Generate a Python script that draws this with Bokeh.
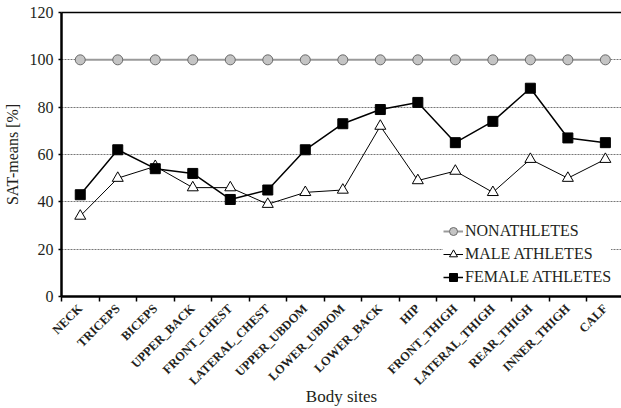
import numpy as np
from bokeh.plotting import figure
from bokeh.models import Range1d, FixedTicker, LinearAxis, Legend
from bokeh.embed import file_html
from bokeh.resources import INLINE

sites = ["NECK", "TRICEPS", "BICEPS", "UPPER_BACK", "FRONT_CHEST", "LATERAL_CHEST",
         "UPPER_UBDOM", "LOWER_UBDOM", "LOWER_BACK", "HIP", "FRONT_THIGH",
         "LATERAL_THIGH", "REAR_THIGH", "INNER_THIGH", "CALF"]
nonathletes = [100, 100, 100, 100, 100, 100, 100, 100, 100, 100, 100, 100, 100, 100, 100]
male = [34, 50, 55, 46, 46, 39, 44, 45, 72, 49, 53, 44, 58, 50, 58]
female = [43, 62, 54, 52, 41, 45, 62, 73, 79, 82, 65, 74, 88, 67, 65]
y_ticks = [0, 20, 40, 60, 80, 100, 120]

FONT = "Liberation Serif"
TXT = "#231f20"

x = np.arange(len(sites)) + 0.5
bounds = list(np.arange(len(sites) + 1))

p = figure(width=621, height=408, output_backend="svg", toolbar_location=None,
           x_range=Range1d(0, 14.93), y_range=Range1d(0, 120),
           min_border_left=61, min_border_right=0, min_border_top=12, min_border_bottom=111)
p.outline_line_color = None
p.background_fill_color = "white"
p.border_fill_color = "white"

# axes
xa = p.xaxis[0]
xa.ticker = FixedTicker(ticks=list(x), minor_ticks=bounds)
xa.major_label_overrides = {float(v): s for v, s in zip(x, sites)}
xa.major_label_orientation = np.pi / 4
xa.major_tick_line_color = None
xa.minor_tick_line_color = "black"
xa.minor_tick_line_width = 1.5
xa.minor_tick_in = 0
xa.minor_tick_out = 5
xa.axis_line_width = 2.5
xa.axis_line_color = "black"
xa.major_label_text_font = FONT
xa.major_label_text_font_style = "bold"
xa.major_label_text_font_size = "12.5px"
xa.major_label_text_color = TXT
xa.major_label_standoff = 4
xa.axis_label = "Body sites"
xa.axis_label_text_font = FONT
xa.axis_label_text_font_style = "normal"
xa.axis_label_text_font_size = "17px"
xa.axis_label_text_color = TXT
xa.axis_label_standoff = -9

ya = p.yaxis[0]
ya.ticker = FixedTicker(ticks=y_ticks)
ya.minor_tick_line_color = None
ya.major_tick_in = 0
ya.major_tick_out = 3
ya.major_tick_line_width = 1.5
ya.axis_line_width = 2.5
ya.axis_line_color = "black"
ya.major_label_text_font = FONT
ya.major_label_text_font_size = "16px"
ya.major_label_text_color = TXT
ya.major_label_standoff = 5
ya.axis_label = "SAT-means [%]"
ya.axis_label_text_font = FONT
ya.axis_label_text_font_style = "normal"
ya.axis_label_text_font_size = "16px"
ya.axis_label_text_color = TXT
ya.axis_label_standoff = 6

top = LinearAxis(ticker=FixedTicker(ticks=[]), axis_line_color="black", axis_line_width=1.5,
                 major_tick_line_color=None, minor_tick_line_color=None,
                 major_label_text_font_size="0px")
p.add_layout(top, "above")

p.xgrid.grid_line_color = None
p.ygrid.ticker = FixedTicker(ticks=y_ticks[1:-1])
p.ygrid.grid_line_color = "#777777"
p.ygrid.grid_line_dash = "2 1"
p.ygrid.grid_line_width = 1

# series
r1 = p.line(x, nonathletes, line_color="#9a9a9a", line_width=2)
s1 = p.scatter(x, nonathletes, marker="circle", size=10, fill_color="#c4c4c4",
               line_color="#6a6a6a", line_width=1)
r2 = p.line(x, male, line_color="black", line_width=1)
s2 = p.scatter(x, male, marker="triangle", size=11, fill_color="white",
               line_color="black", line_width=1)
r3 = p.line(x, female, line_color="black", line_width=1.5)
s3 = p.scatter(x, female, marker="square", size=10, fill_color="black",
               line_color="black", line_width=1)

legend = Legend(items=[("NONATHLETES", [r1, s1]), ("MALE ATHLETES", [r2, s2]),
                       ("FEMALE ATHLETES", [r3, s3])],
                location=(382, 9), orientation="vertical")
legend.border_line_color = None
legend.background_fill_color = "white"
legend.background_fill_alpha = 1
legend.padding = 8
legend.margin = 0
legend.spacing = 3
legend.glyph_width = 20
legend.glyph_height = 20
legend.label_height = 20
legend.label_standoff = 2
legend.label_text_font = FONT
legend.label_text_font_size = "16px"
legend.label_text_color = TXT
p.add_layout(legend, "center")

open("out.html", "w").write(file_html(p, INLINE))
